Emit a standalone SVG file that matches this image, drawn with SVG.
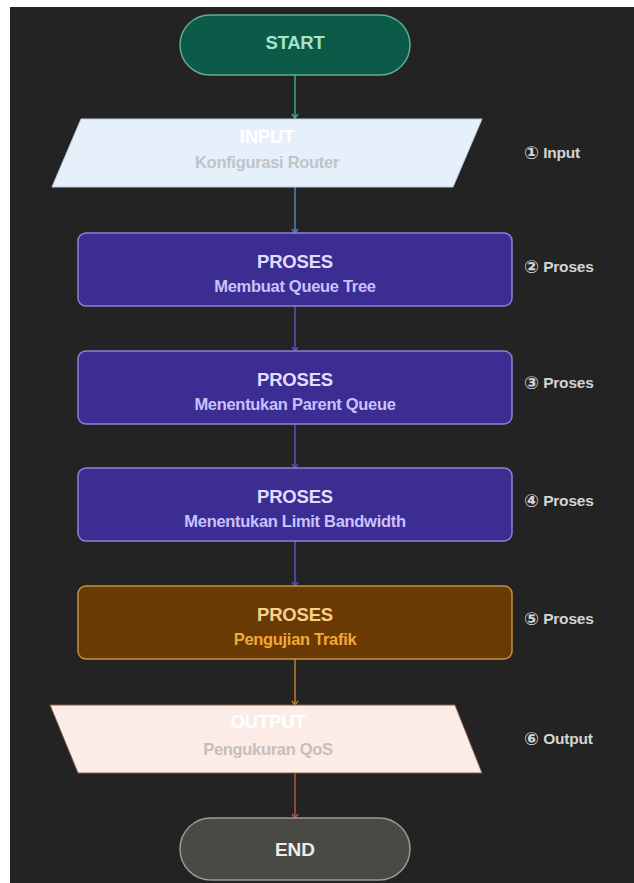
<svg xmlns="http://www.w3.org/2000/svg" width="634" height="883" viewBox="0 0 634 883">
<style>
.t{font-family:"Liberation Sans",Arial,sans-serif;font-weight:bold;text-anchor:middle;dominant-baseline:middle}
.h{font-size:18.5px;letter-spacing:-0.2px}
.s{font-size:16.5px;letter-spacing:-0.3px}
.side{font-family:"Liberation Sans","DejaVu Sans",sans-serif;font-weight:bold;font-size:15.5px;fill:#d4d4d4;dominant-baseline:middle;letter-spacing:-0.2px}
.ic{font-size:18px;font-family:"DejaVu Sans","Liberation Sans",sans-serif}
.proc{fill:#3b2d91;stroke:#8c82d6;stroke-width:1.5}
.edge{fill:none;stroke-width:1.5}
</style>
<defs>
<marker id="aT" markerWidth="8" markerHeight="8" refX="4" refY="6" viewBox="0 0 8 8" markerUnits="userSpaceOnUse"><path d="M1,2 L4,6 L7,2" fill="none" stroke="#3fa98a" stroke-width="1.4"/></marker>
<marker id="aB" markerWidth="8" markerHeight="8" refX="4" refY="6" viewBox="0 0 8 8" markerUnits="userSpaceOnUse"><path d="M1,2 L4,6 L7,2" fill="none" stroke="#4f86b8" stroke-width="1.4"/></marker>
<marker id="aP" markerWidth="8" markerHeight="8" refX="4" refY="6" viewBox="0 0 8 8" markerUnits="userSpaceOnUse"><path d="M1,2 L4,6 L7,2" fill="none" stroke="#5c52b8" stroke-width="1.4"/></marker>
<marker id="aO" markerWidth="8" markerHeight="8" refX="4" refY="6" viewBox="0 0 8 8" markerUnits="userSpaceOnUse"><path d="M1,2 L4,6 L7,2" fill="none" stroke="#c27a2c" stroke-width="1.4"/></marker>
<marker id="aR" markerWidth="8" markerHeight="8" refX="4" refY="6" viewBox="0 0 8 8" markerUnits="userSpaceOnUse"><path d="M1,2 L4,6 L7,2" fill="none" stroke="#a85a3c" stroke-width="1.4"/></marker>
</defs>
<rect x="10" y="7" width="624" height="876" fill="#232323"/>
<g id="connectors">
<line class="edge" x1="295" y1="75" x2="295" y2="118" stroke="#3fa98a" marker-end="url(#aT)"/>
<line class="edge" x1="295" y1="187" x2="295" y2="233" stroke="#4f86b8" marker-end="url(#aB)"/>
<line class="edge" x1="295" y1="306" x2="295" y2="351" stroke="#5c52b8" marker-end="url(#aP)"/>
<line class="edge" x1="295" y1="424" x2="295" y2="468" stroke="#5c52b8" marker-end="url(#aP)"/>
<line class="edge" x1="295" y1="541" x2="295" y2="586" stroke="#5c52b8" marker-end="url(#aP)"/>
<line class="edge" x1="295" y1="659" x2="295" y2="705" stroke="#c27a2c" marker-end="url(#aO)"/>
<line class="edge" x1="295" y1="773" x2="295" y2="818" stroke="#a85a3c" marker-end="url(#aR)"/>
</g>
<g id="start">
<rect x="180" y="15" width="230" height="60" rx="30" fill="#0c5a48" stroke="#5fae8e" stroke-width="1.5"/>
<text class="t" x="295" y="44" font-size="18.5" letter-spacing="-0.3" fill="#a6e3cb">START</text>
</g>
<g id="input">
<polygon points="81,119 482,119 453,187 52,187" fill="#e6f0fb" stroke="#b8cde6" stroke-width="1"/>
<text class="t h" x="267" y="138" fill="#ffffff">INPUT</text>
<text class="t s" x="267" y="164" fill="#bfc3c8">Konfigurasi Router</text>
</g>
<g id="proses1">
<rect class="proc" x="78" y="233" width="434" height="73" rx="8"/>
<text class="t h" x="295" y="263" fill="#e2ddff">PROSES</text>
<text class="t s" x="295" y="288" fill="#c9c1ff">Membuat Queue Tree</text>
</g>
<g id="proses2">
<rect class="proc" x="78" y="351" width="434" height="73" rx="8"/>
<text class="t h" x="295" y="381" fill="#e2ddff">PROSES</text>
<text class="t s" x="295" y="406" fill="#c9c1ff">Menentukan Parent Queue</text>
</g>
<g id="proses3">
<rect class="proc" x="78" y="468" width="434" height="73" rx="8"/>
<text class="t h" x="295" y="498" fill="#e2ddff">PROSES</text>
<text class="t s" x="295" y="523" fill="#c9c1ff">Menentukan Limit Bandwidth</text>
</g>
<g id="proses4">
<rect x="78" y="586" width="434" height="73" rx="8" fill="#6a3a05" stroke="#c4923e" stroke-width="1.5"/>
<text class="t h" x="295" y="616" fill="#f6d189">PROSES</text>
<text class="t s" x="295" y="641" fill="#f0a935">Pengujian Trafik</text>
</g>
<g id="output">
<polygon points="50,705 455,705 482,773 78,773" fill="#fbece7" stroke="#8a5a40" stroke-width="1"/>
<text class="t h" x="268" y="723" fill="#ffffff">OUTPUT</text>
<text class="t s" x="268" y="751" fill="#c4bfbd">Pengukuran QoS</text>
</g>
<g id="end">
<rect x="180" y="818" width="230" height="62" rx="31" fill="#4a4a45" stroke="#9b9b93" stroke-width="1.5"/>
<text class="t" x="295" y="851" font-size="19" letter-spacing="0" fill="#ececec">END</text>
</g>
<g id="side-labels">
<text class="side" x="524" y="154"><tspan class="ic">①</tspan> Input</text>
<text class="side" x="524" y="268"><tspan class="ic">②</tspan> Proses</text>
<text class="side" x="524" y="384"><tspan class="ic">③</tspan> Proses</text>
<text class="side" x="524" y="502"><tspan class="ic">④</tspan> Proses</text>
<text class="side" x="524" y="620"><tspan class="ic">⑤</tspan> Proses</text>
<text class="side" x="524" y="740"><tspan class="ic">⑥</tspan> Output</text>
</g>
</svg>
